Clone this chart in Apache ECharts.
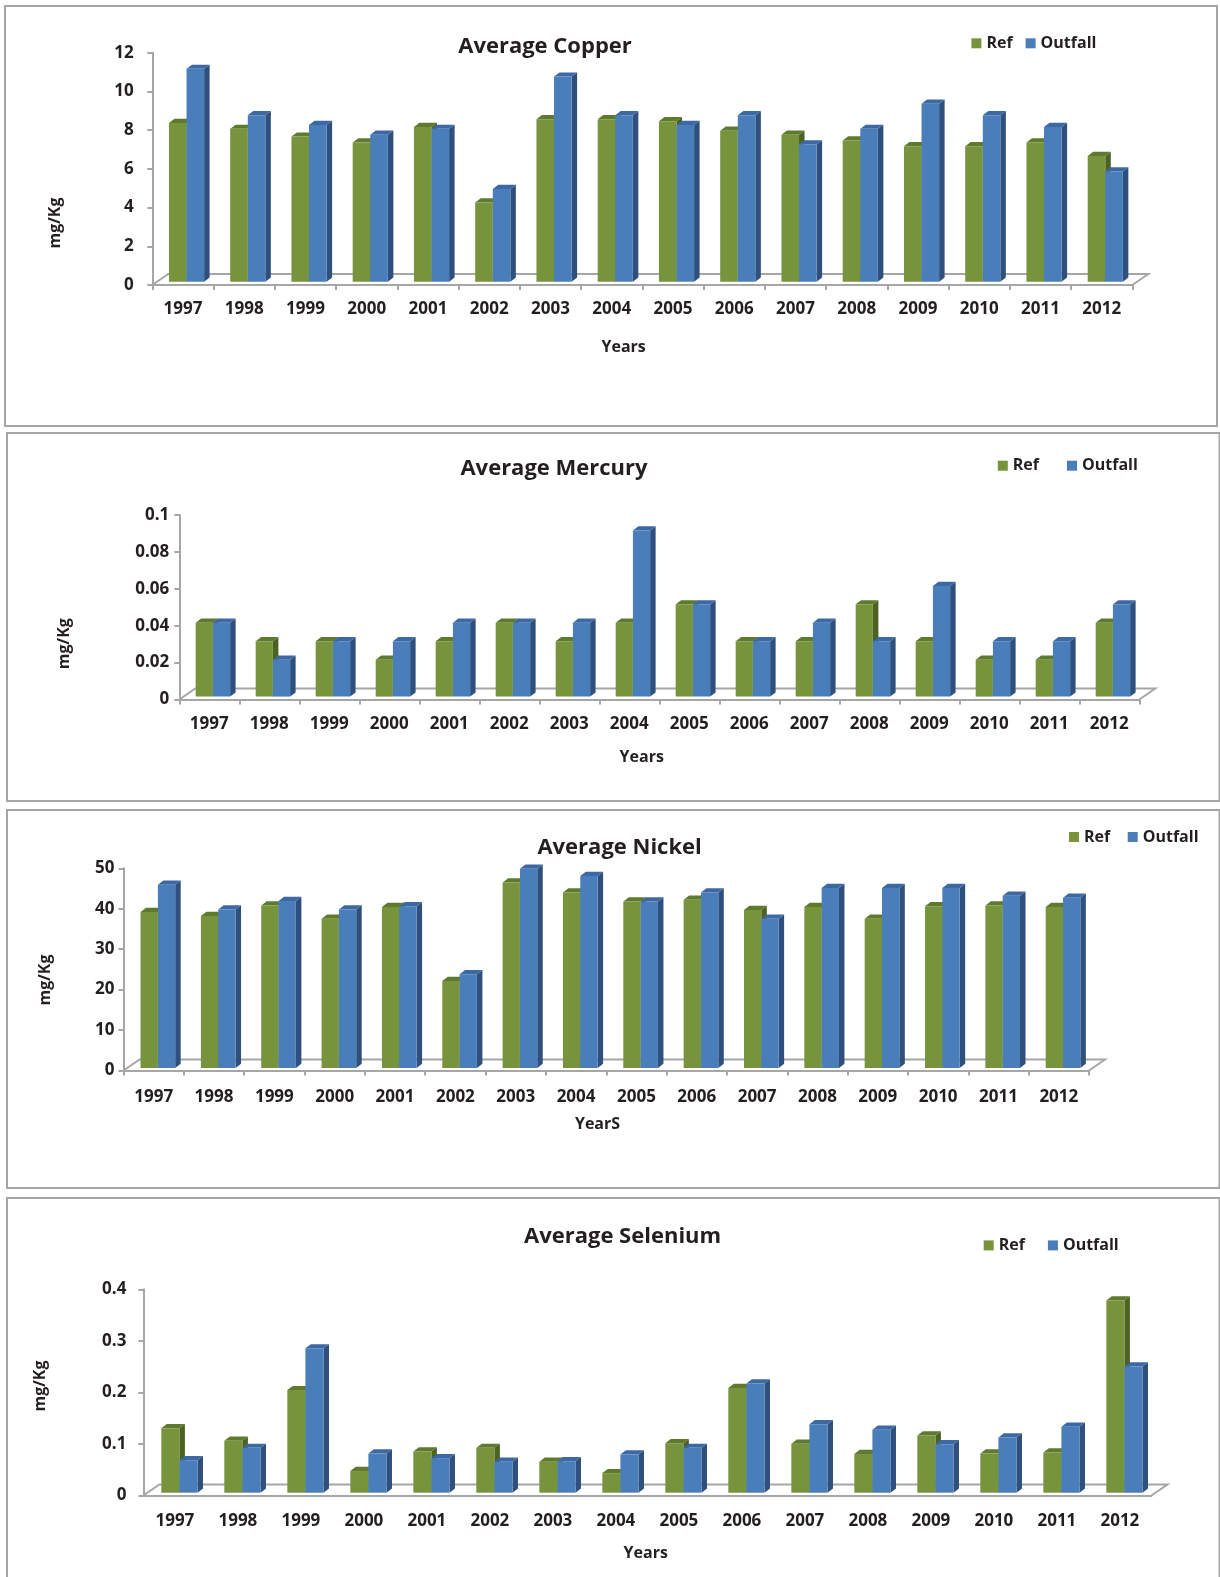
<!DOCTYPE html>
<html>
<head>
<meta charset="utf-8">
<title>Average Copper, Mercury, Nickel and Selenium</title>
<script src="https://cdn.jsdelivr.net/npm/echarts@6/dist/echarts.min.js"></script>
<style>
  html, body { margin: 0; padding: 0; background: #ffffff; }
  #chart { width: 1220px; height: 1577px; }
</style>
</head>
<body>
<div id="chart"></div>
<script>
// ---- data -------------------------------------------------------------
const years = ['1997', '1998', '1999', '2000', '2001', '2002', '2003', '2004',
               '2005', '2006', '2007', '2008', '2009', '2010', '2011', '2012'];

const copperRef     = [8.2, 7.9, 7.5, 7.2, 8.0, 4.1, 8.4, 8.4, 8.3, 7.8, 7.6, 7.3, 7.0, 7.0, 7.2, 6.5];
const copperOutfall = [11.0, 8.6, 8.1, 7.6, 7.9, 4.8, 10.6, 8.6, 8.1, 8.6, 7.1, 7.9, 9.2, 8.6, 8.0, 5.7];
const copperTicks   = [0, 2, 4, 6, 8, 10, 12];

const mercuryRef     = [0.04, 0.03, 0.03, 0.02, 0.03, 0.04, 0.03, 0.04, 0.05, 0.03, 0.03, 0.05, 0.03, 0.02, 0.02, 0.04];
const mercuryOutfall = [0.04, 0.02, 0.03, 0.03, 0.04, 0.04, 0.04, 0.09, 0.05, 0.03, 0.04, 0.03, 0.06, 0.03, 0.03, 0.05];
const mercuryTicks   = [0, 0.02, 0.04, 0.06, 0.08, 0.1];

const nickelRef     = [38.6, 37.6, 40.2, 36.9, 39.8, 21.5, 45.9, 43.4, 41.2, 41.6, 39.1, 39.8, 36.9, 40.0, 40.2, 39.8];
const nickelOutfall = [45.3, 39.2, 41.3, 39.2, 40.0, 23.2, 49.3, 47.5, 41.2, 43.4, 36.9, 44.5, 44.5, 44.5, 42.6, 42.1];
const nickelTicks   = [0, 10, 20, 30, 40, 50];

const seleniumRef     = [0.125, 0.101, 0.199, 0.042, 0.080, 0.087, 0.060, 0.038, 0.096, 0.203, 0.095, 0.075, 0.111, 0.076, 0.078, 0.373];
const seleniumOutfall = [0.063, 0.087, 0.280, 0.076, 0.067, 0.060, 0.061, 0.074, 0.087, 0.212, 0.133, 0.122, 0.094, 0.107, 0.128, 0.245];
const seleniumTicks   = [0, 0.1, 0.2, 0.3, 0.4];

const seriesNames = ['Ref', 'Outfall'];

// ---- styling ----------------------------------------------------------
const FONT = '"Open Sans", "Noto Sans", sans-serif';
const TEXT = '#231f20';
const AXIS_GRAY = '#a6a6a6';
const FACE = [
  { front: '#77933c', top: '#5e7a2c', side: '#4b6224' },   // Ref
  { front: '#4a7ebb', top: '#3c68a4', side: '#2f4f7d' }    // Outfall
];
const BAR_FRAC = 0.287;      // width of one column as a share of its category band
const BAR_DEPTH = [5.5, -4.2];
const FLOOR_DEPTH = [16, -11];

const panels = [
  { title: 'Average Copper', xName: 'Years', ref: copperRef, out: copperOutfall, ticks: copperTicks,
    grid: { left: 152.3, top: 52.7, width: 980, height: 232.3 }, box: [5, 6, 1212, 420],
    titlePos: [545, 47], yNamePos: [55, 223], xNamePos: [623.6, 347],
    legend: [971.4, 44.3, 13], yMargin: 18.5, xMargin: 16, xTicks: true, shift: [3.6, -3.2] },
  { title: 'Average Mercury', xName: 'Years', ref: mercuryRef, out: mercuryOutfall, ticks: mercuryTicks,
    grid: { left: 179.3, top: 515, width: 960, height: 184.5 }, box: [7, 433, 1212.5, 368],
    titlePos: [554, 469], yNamePos: [64.4, 643.7], xNamePos: [641.7, 757.4],
    legend: [997.8, 466.7, 28], yMargin: 10, xMargin: 16.5, xTicks: true, shift: [3.6, -2.9] },
  { title: 'Average Nickel', xName: 'YearS', ref: nickelRef, out: nickelOutfall, ticks: nickelTicks,
    grid: { left: 123.5, top: 868.3, width: 965.5, height: 202.2 }, box: [7, 810, 1212.5, 378],
    titlePos: [619.6, 847.5], yNamePos: [45, 980], xNamePos: [597.5, 1124.5],
    legend: [1069, 838, 17.5], yMargin: 9, xMargin: 18, xTicks: true, shift: [4.2, -2.5] },
  { title: 'Average Selenium', xName: 'Years', ref: seleniumRef, out: seleniumOutfall, ticks: seleniumTicks,
    grid: { left: 143.4, top: 1289.3, width: 1008, height: 206.2 }, box: [7, 1198, 1212.5, 380],
    titlePos: [622.6, 1236.7], yNamePos: [40.2, 1386], xNamePos: [645.7, 1553],
    legend: [983.7, 1246.4, 23], yMargin: 17, xMargin: 17, xTicks: false, shift: [4.5, -2.8] }
];

// ---- 3D column drawing -------------------------------------------------
function columnRenderer(which, shift) {
  return function (params, api) {
    const idx = api.value(0);
    const val = api.value(1);
    const base = api.coord([idx, 0]);
    const top = api.coord([idx, val]);
    const band = api.size([1, 0])[0];
    const w = band * BAR_FRAC;
    const x0 = base[0] + shift[0] + (which === 0 ? -w : 0);
    const x1 = x0 + w;
    const yb = base[1] + shift[1];
    const yt = top[1] + shift[1];
    const dx = BAR_DEPTH[0], dy = BAR_DEPTH[1];
    const c = FACE[which];
    return {
      type: 'group',
      children: [
        { type: 'polygon', shape: { points: [[x1, yb], [x1 + dx, yb + dy], [x1 + dx, yt + dy], [x1, yt]] },
          style: { fill: c.side } },
        { type: 'polygon', shape: { points: [[x0, yt], [x1, yt], [x1 + dx, yt + dy], [x0 + dx, yt + dy]] },
          style: { fill: c.top } },
        { type: 'rect', shape: { x: x0, y: yt, width: w, height: yb - yt },
          style: { fill: c.front } }
      ]
    };
  };
}

function floorRenderer(params) {
  const cs = params.coordSys;
  const fy = cs.y + cs.height;
  const xl = cs.x, xr = cs.x + cs.width;
  const dx = FLOOR_DEPTH[0], dy = FLOOR_DEPTH[1];
  return {
    type: 'polyline',
    shape: { points: [[xl, fy], [xl + dx, fy + dy], [xr + dx, fy + dy], [xr, fy]] },
    style: { stroke: AXIS_GRAY, lineWidth: 2, fill: null }
  };
}

function tickText(v) {
  return String(+(+v).toFixed(4));
}

// ---- option -----------------------------------------------------------
const grid = [], xAxis = [], yAxis = [], series = [], legend = [], graphic = [];

panels.forEach(function (p, k) {
  grid.push(Object.assign({ containLabel: false }, p.grid));

  xAxis.push({
    gridIndex: k, type: 'category', data: years, boundaryGap: true,
    axisLine: { show: true, lineStyle: { color: AXIS_GRAY, width: 2 } },
    axisTick: { show: p.xTicks, length: 5, lineStyle: { color: AXIS_GRAY, width: 2 } },
    axisLabel: { margin: p.xMargin, color: TEXT, fontFamily: FONT, fontWeight: 'bold', fontSize: 17, interval: 0 },
    splitLine: { show: false }
  });

  const tmin = p.ticks[0], tmax = p.ticks[p.ticks.length - 1];
  yAxis.push({
    gridIndex: k, type: 'value', min: tmin, max: tmax, interval: p.ticks[1] - p.ticks[0],
    axisLine: { show: true, lineStyle: { color: AXIS_GRAY, width: 2 } },
    axisTick: { show: true, length: 5, lineStyle: { color: AXIS_GRAY, width: 2 } },
    axisLabel: { margin: p.yMargin, color: TEXT, fontFamily: FONT, fontWeight: 'bold', fontSize: 17, formatter: tickText },
    splitLine: { show: false }
  });

  series.push({
    type: 'custom', name: 'floor', xAxisIndex: k, yAxisIndex: k, z: 1, silent: true,
    data: [[0, 0]], renderItem: floorRenderer, clip: false
  });

  [p.ref, p.out].forEach(function (vals, which) {
    series.push({
      type: 'custom', name: seriesNames[which], xAxisIndex: k, yAxisIndex: k, z: 2 + which,
      itemStyle: { color: FACE[which].front },
      data: vals.map(function (v, i) { return [i, v]; }),
      encode: { x: 0, y: 1 },
      renderItem: columnRenderer(which, p.shift),
      clip: false
    });
  });

  legend.push({
    data: seriesNames, left: p.legend[0], top: p.legend[1] - 9, itemGap: p.legend[2],
    itemWidth: 10, itemHeight: 10, icon: 'rect', padding: 0, selectedMode: false,
    textStyle: { color: TEXT, fontFamily: FONT, fontWeight: 'bold', fontSize: 16 }
  });

  graphic.push({
    type: 'rect', silent: true, z: -10,
    shape: { x: p.box[0], y: p.box[1], width: p.box[2], height: p.box[3] },
    style: { fill: null, stroke: AXIS_GRAY, lineWidth: 2 }
  });
  graphic.push({
    type: 'text', x: p.titlePos[0], y: p.titlePos[1], silent: true,
    style: { text: p.title, fill: TEXT, font: 'bold 22px ' + FONT, align: 'center', verticalAlign: 'middle' }
  });
  graphic.push({
    type: 'text', x: p.yNamePos[0], y: p.yNamePos[1], rotation: Math.PI / 2, silent: true,
    style: { text: 'mg/Kg', fill: TEXT, font: 'bold 16px ' + FONT, align: 'center', verticalAlign: 'middle' }
  });
  graphic.push({
    type: 'text', x: p.xNamePos[0], y: p.xNamePos[1], silent: true,
    style: { text: p.xName, fill: TEXT, font: 'bold 16px ' + FONT, align: 'center', verticalAlign: 'middle' }
  });
});

const chart = echarts.init(document.getElementById('chart'), null, { renderer: 'canvas' });
chart.setOption({
  animation: false,
  backgroundColor: '#ffffff',
  grid: grid, xAxis: xAxis, yAxis: yAxis, series: series, legend: legend, graphic: graphic
});
</script>
</body>
</html>
